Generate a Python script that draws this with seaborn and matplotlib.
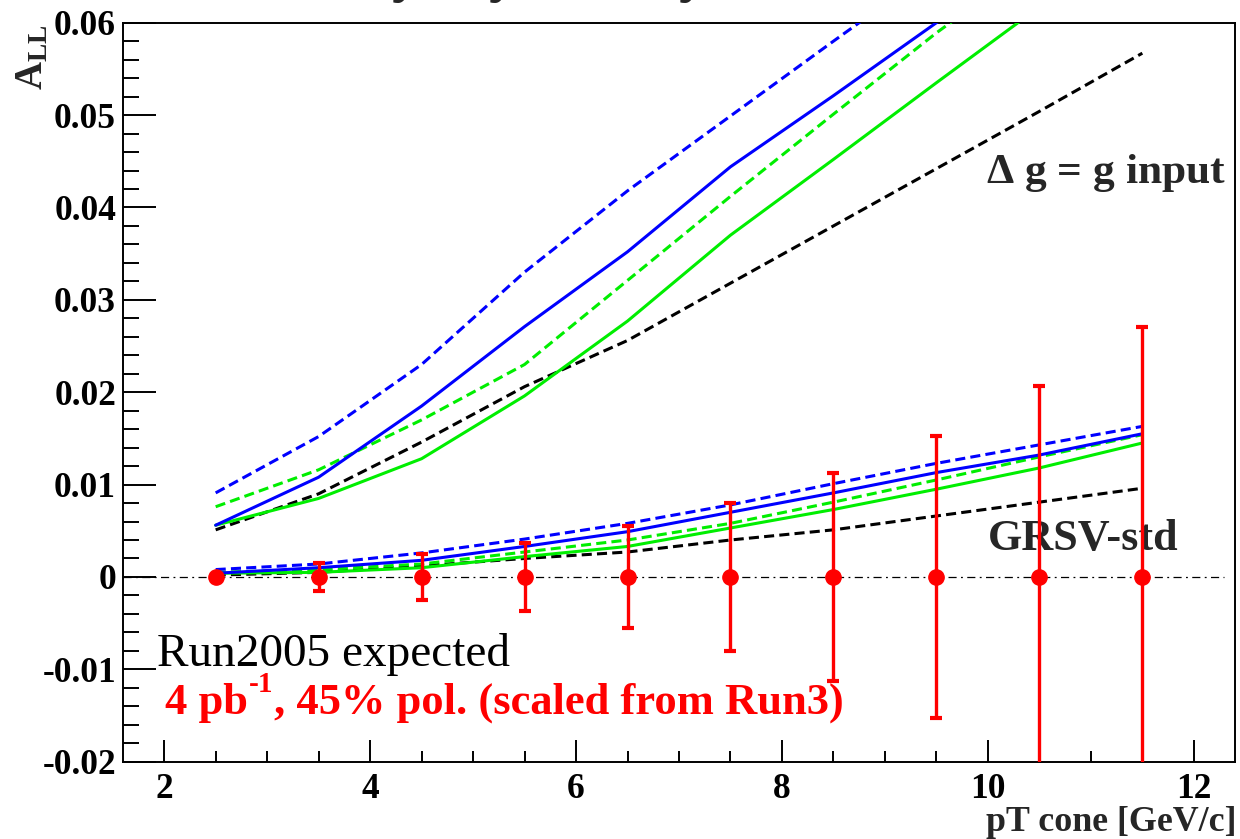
import numpy as np
import pandas as pd
import matplotlib
matplotlib.use("Agg")
import matplotlib.pyplot as plt
import seaborn as sns
from matplotlib.ticker import MultipleLocator, FuncFormatter

# ---------------- data ----------------
pt_bins = [2.5, 3.5, 4.5, 5.5, 6.5, 7.5, 8.5, 9.5, 10.5, 11.5]

# Delta g = g input
dgg_blue_solid = [0.0056, 0.0108, 0.0185, 0.0271, 0.0352, 0.0444, 0.0521, 0.0600, 0.0680, 0.0760]
dgg_blue_dash = [0.0091, 0.0152, 0.0230, 0.0330, 0.0418, 0.0499, 0.0580, 0.0660, 0.0740, 0.0820]
dgg_green_solid = [0.0056, 0.0085, 0.0128, 0.0196, 0.0277, 0.0370, 0.0452, 0.0535, 0.0617, 0.0700]
dgg_green_dash = [0.0076, 0.0116, 0.0170, 0.0230, 0.0321, 0.0412, 0.0501, 0.0589, 0.0670, 0.0750]
dgg_black_dash = [0.0051, 0.0090, 0.0146, 0.0206, 0.0256, 0.0318, 0.0380, 0.0442, 0.0504, 0.0567]

# GRSV-std
grsv_blue_solid = [0.0004, 0.0010, 0.0018, 0.0033, 0.0049, 0.0070, 0.0091, 0.0113, 0.0132, 0.0155]
grsv_blue_dash = [0.0008, 0.0014, 0.0026, 0.0041, 0.0058, 0.0078, 0.0101, 0.0123, 0.0143, 0.0163]
grsv_green_solid = [0.0004, 0.0005, 0.0010, 0.0022, 0.0033, 0.0053, 0.0073, 0.0095, 0.0118, 0.0145]
grsv_green_dash = [0.0005, 0.0008, 0.0014, 0.0027, 0.0040, 0.0058, 0.0081, 0.0105, 0.0130, 0.0154]
grsv_black_dash = [0.0002, 0.0005, 0.0012, 0.0020, 0.0027, 0.0040, 0.0051, 0.0066, 0.0081, 0.0096]

# Run2005 projected points
proj_all = [0.0, 0.0, 0.0, 0.0, 0.0, 0.0, 0.0, 0.0, 0.0, 0.0]
proj_err = [0.0002, 0.0015, 0.0025, 0.0037, 0.0055, 0.0080, 0.0113, 0.0153, 0.0207, 0.0271]

x_ticks = [2, 4, 6, 8, 10, 12]
y_ticks = [-0.02, -0.01, 0.0, 0.01, 0.02, 0.03, 0.04, 0.05, 0.06]

# ---------------- style ----------------
sns.set_theme(style="ticks")
plt.rcParams["font.family"] = ["Liberation Serif", "DejaVu Serif"]
plt.rcParams["font.weight"] = "bold"
plt.rcParams["mathtext.fontset"] = "custom"
plt.rcParams["mathtext.rm"] = "Liberation Serif"
plt.rcParams["mathtext.it"] = "Liberation Serif:italic"
plt.rcParams["mathtext.bf"] = "Liberation Serif:bold"

W, H = 1240, 839
fig = plt.figure(figsize=(W / 100, H / 100), dpi=100)
ax = fig.add_axes([123 / W, 1 - 761.7 / H, (1235 - 123) / W, (761.7 - 22.7) / H])

BLUE = "#0000ff"
GREEN = "#00ee00"
BLACK = "#000000"
RED = "#ff0000"
DASH = (0, (3.3, 1.7))

curves = [
    (dgg_black_dash, BLACK, DASH),
    (dgg_green_solid, GREEN, "-"),
    (dgg_green_dash, GREEN, DASH),
    (dgg_blue_solid, BLUE, "-"),
    (dgg_blue_dash, BLUE, DASH),
    (grsv_black_dash, BLACK, DASH),
    (grsv_green_solid, GREEN, "-"),
    (grsv_green_dash, GREEN, DASH),
    (grsv_blue_solid, BLUE, "-"),
    (grsv_blue_dash, BLUE, DASH),
]

# zero line
ax.axhline(0, xmin=0.0, xmax=0.99, color="black", lw=0.9,
           linestyle=(0, (6.5, 3.5, 1.5, 3.5)), zorder=2)

for vals, col, ls in curves:
    sns.lineplot(x=pt_bins, y=vals, color=col, linestyle=ls, linewidth=2.2,
                 ax=ax, zorder=3, legend=False)

ax.errorbar(pt_bins, proj_all, yerr=proj_err, fmt="o", color=RED, ecolor=RED,
            markerfacecolor=RED, markeredgecolor=RED, ms=11,
            elinewidth=2.4, capsize=4.2, capthick=3.0, zorder=6)

ax.set_xlim(1.6, 12.4)
ax.set_ylim(-0.02, 0.06)
ax.set_xticks(x_ticks)
ax.set_yticks(y_ticks)
ax.xaxis.set_minor_locator(MultipleLocator(0.5))
ax.yaxis.set_minor_locator(MultipleLocator(0.002))
ax.yaxis.set_major_formatter(FuncFormatter(lambda v, _: f"{round(v, 4):g}"))
ax.xaxis.set_major_formatter(FuncFormatter(lambda v, _: f"{v:g}"))

ax.tick_params(axis="both", which="both", direction="in", top=False, right=False,
               width=1.4, color="black", labelsize=25.5, labelcolor="black")
ax.tick_params(axis="y", which="major", length=23.8, pad=5)
ax.tick_params(axis="y", which="minor", length=11.3)
ax.tick_params(axis="x", which="major", length=15.6, pad=8)
ax.tick_params(axis="x", which="minor", length=7.7)
for lbl in ax.get_xticklabels() + ax.get_yticklabels():
    lbl.set_fontweight("bold")

for sp in ax.spines.values():
    sp.set_color("black")
    sp.set_linewidth(1.4)
ax.set_xlabel("")
ax.set_ylabel("")


def fx(px):
    return px / W


def fy(py):
    return 1 - py / H


# texts
ax.text(fx(1226), fy(183), r"$\mathbf{\Delta}$ g = g input", transform=fig.transFigure,
        ha="right", va="baseline", fontsize=31.3, fontweight="bold", zorder=1)
ax.text(fx(1178), fy(550), "GRSV-std", transform=fig.transFigure,
        ha="right", va="baseline", fontsize=31.8, fontweight="bold", zorder=1)
ax.text(fx(157), fy(666), "Run2005 expected", transform=fig.transFigure,
        ha="left", va="baseline", fontsize=34, fontweight="normal", color="black", zorder=1)

t1 = ax.text(fx(165), fy(714), "4 pb", transform=fig.transFigure,
             ha="left", va="baseline", fontsize=32, fontweight="bold", color=RED, zorder=1)
t2 = ax.annotate("-1", xy=(1, fy(714)), xycoords=(t1, "figure fraction"),
                 xytext=(1, 16), textcoords="offset points", ha="left", va="baseline",
                 fontsize=21, fontweight="bold", color=RED, zorder=1)
t3 = ax.annotate(", 45% pol. (scaled from Run3)", xy=(1, fy(714)),
                 xycoords=(t2, "figure fraction"), xytext=(0, 0), textcoords="offset points",
                 ha="left", va="baseline", fontsize=32, fontweight="bold",
                 color=RED, zorder=1)

fig.text(fx(1236), fy(831), "pT cone [GeV/c]", ha="right", va="baseline",
         fontsize=25.8, fontweight="bold")
fig.text(fx(33), fy(24), r"$\mathbf{A_{LL}}$", rotation=90, ha="center", va="top",
         fontsize=28)
fig.text(fx(44), fy(-10), "Double helicity asymmetry $A_{LL}$", ha="left", va="baseline",
         fontsize=44, fontweight="normal")

fig.savefig("out.png", dpi=100)
